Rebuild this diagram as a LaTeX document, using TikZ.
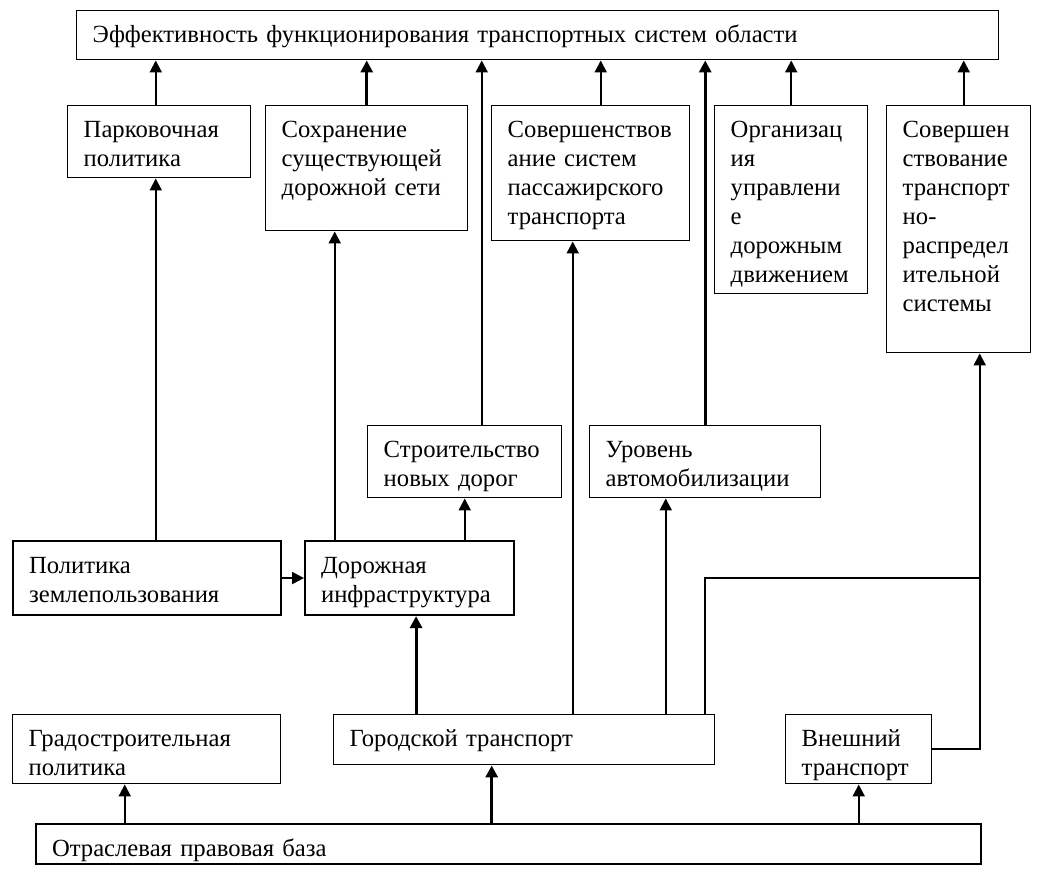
\documentclass[tikz,border=0pt]{standalone}
\usepackage{fontspec}
\setmainfont{Liberation Serif}
\usetikzlibrary{arrows.meta}
\newcommand{\boxfont}{\fontsize{18.5}{21.75}\selectfont\hyphenpenalty10000\relax}
\tikzset{%
       box/.style = { draw, anchor=north west, align=left, inner xsep=12pt, inner ysep=0pt, text height=24pt, font=\boxfont },
   thinbox/.style = { box, line width=1.1pt },
  thickbox/.style = { box, line width=1.6pt },
      wire/.style = { line width=1.5pt },
      link/.style = { wire, -{Triangle[width=9pt,length=9pt]} },
     blink/.style = { link, line width=2.4pt }
}
\begin{document}
\begin{tikzpicture}[x=0.75pt,y=-0.75pt,line join=miter]
\useasboundingbox (0,0) rectangle (1040,880);
% top
\node[thinbox, text width=667.5pt, text depth=12.75pt] (goal) at (76,10) {Эффективность~функционирования~транспортных~систем~области};
% directions
\node[thinbox, text width=113.25pt, text depth=30pt] (park) at (67,105) {Парковочная\\политика};
\node[thinbox, text width=127.5pt, text depth=69.75pt] (keep) at (265,105) {Сохранение\\существующей\\дорожной~сети};
\node[thinbox, text width=124.5pt, text depth=77.25pt] (pass) at (491,105) {Совершенствов\\ание~систем\\пассажирского\\транспорта};
\node[thinbox, text width=90.75pt, text depth=117pt] (org) at (714,105) {Организац\\ия\\управлени\\е\\дорожным\\движением};
\node[thinbox, text width=84pt, text depth=161.25pt] (distr) at (886,105) {Совершен\\ствование\\транспорт\\но-\\распредел\\ительной\\системы};
% factors
\node[thinbox, text width=121.5pt, text depth=30pt] (build) at (367,425) {Строительство\\новых~дорог};
\node[thinbox, text width=149.25pt, text depth=30pt] (motor) at (589,425) {Уровень\\автомобилизации};
\node[thickbox, text width=177pt, text depth=31.5pt] (land) at (12,540) {Политика\\землепользования};
\node[thickbox, text width=132.75pt, text depth=31.5pt] (infra) at (304,540) {Дорожная\\инфраструктура};
% base
\node[thinbox, text width=177pt, text depth=27.75pt] (urban) at (12,714) {Градостроительная\\политика};
\node[thinbox, text width=261.75pt, text depth=13.5pt] (city) at (333,714) {Городской~транспорт};
\node[thinbox, text width=85.5pt, text depth=27.75pt] (ext) at (785,714) {Внешний\\транспорт};
\node[thickbox, text width=684.75pt, text depth=6pt] (law) at (35,823) {Отраслевая~правовая~база};
% into the top box
\draw[link] ([xshift=-2.6pt]park.north) -- ([xshift=-2.6pt]park.north |- goal.south);
\draw[blink] (keep.north) -- (keep.north |- goal.south);
\draw[link] ([xshift=12.75pt]build.north) -- ([xshift=12.75pt]build.north |- goal.south);
\draw[link] ([xshift=7.5pt]pass.north) -- ([xshift=7.5pt]pass.north |- goal.south);
\draw[blink] (motor.north) -- (motor.north |- goal.south);
\draw[link] (org.north) -- (org.north |- goal.south);
\draw[link] ([xshift=3.75pt]distr.north) -- ([xshift=3.75pt]distr.north |- goal.south);
% middle
\draw[link] ([xshift=-2.6pt]park.south |- land.north) -- ([xshift=-2.6pt]park.south);
\draw[link] ([xshift=-24pt]keep.south |- infra.north) -- ([xshift=-24pt]keep.south);
\draw[link] (build.south |- infra.north) -- (build.south);
\draw[link] (land.east) -- (infra.west);
% from city transport
\draw[blink] ([xshift=4.9pt]infra.south |- city.north) -- ([xshift=4.9pt]infra.south);
\draw[link] ([xshift=-13.5pt]pass.south |- city.north) -- ([xshift=-13.5pt]pass.south);
\draw[link] ([xshift=-29.6pt]motor.south |- city.north) -- ([xshift=-29.6pt]motor.south);
\coordinate (joint) at ([xshift=15.75pt]distr.south |- land.east);
\draw[link] (motor.south |- city.north) |- (joint) -- ([xshift=15.75pt]distr.south);
\draw[wire] (ext.east) -| (joint);
% from the legal base
\draw[link] ([xshift=-16.5pt]urban.south |- law.north) -- ([xshift=-16.5pt]urban.south);
\draw[blink] ([xshift=-24.4pt]city.south |- law.north) -- ([xshift=-24.4pt]city.south);
\draw[link] (ext.south |- law.north) -- (ext.south);
\end{tikzpicture}
\end{document}
